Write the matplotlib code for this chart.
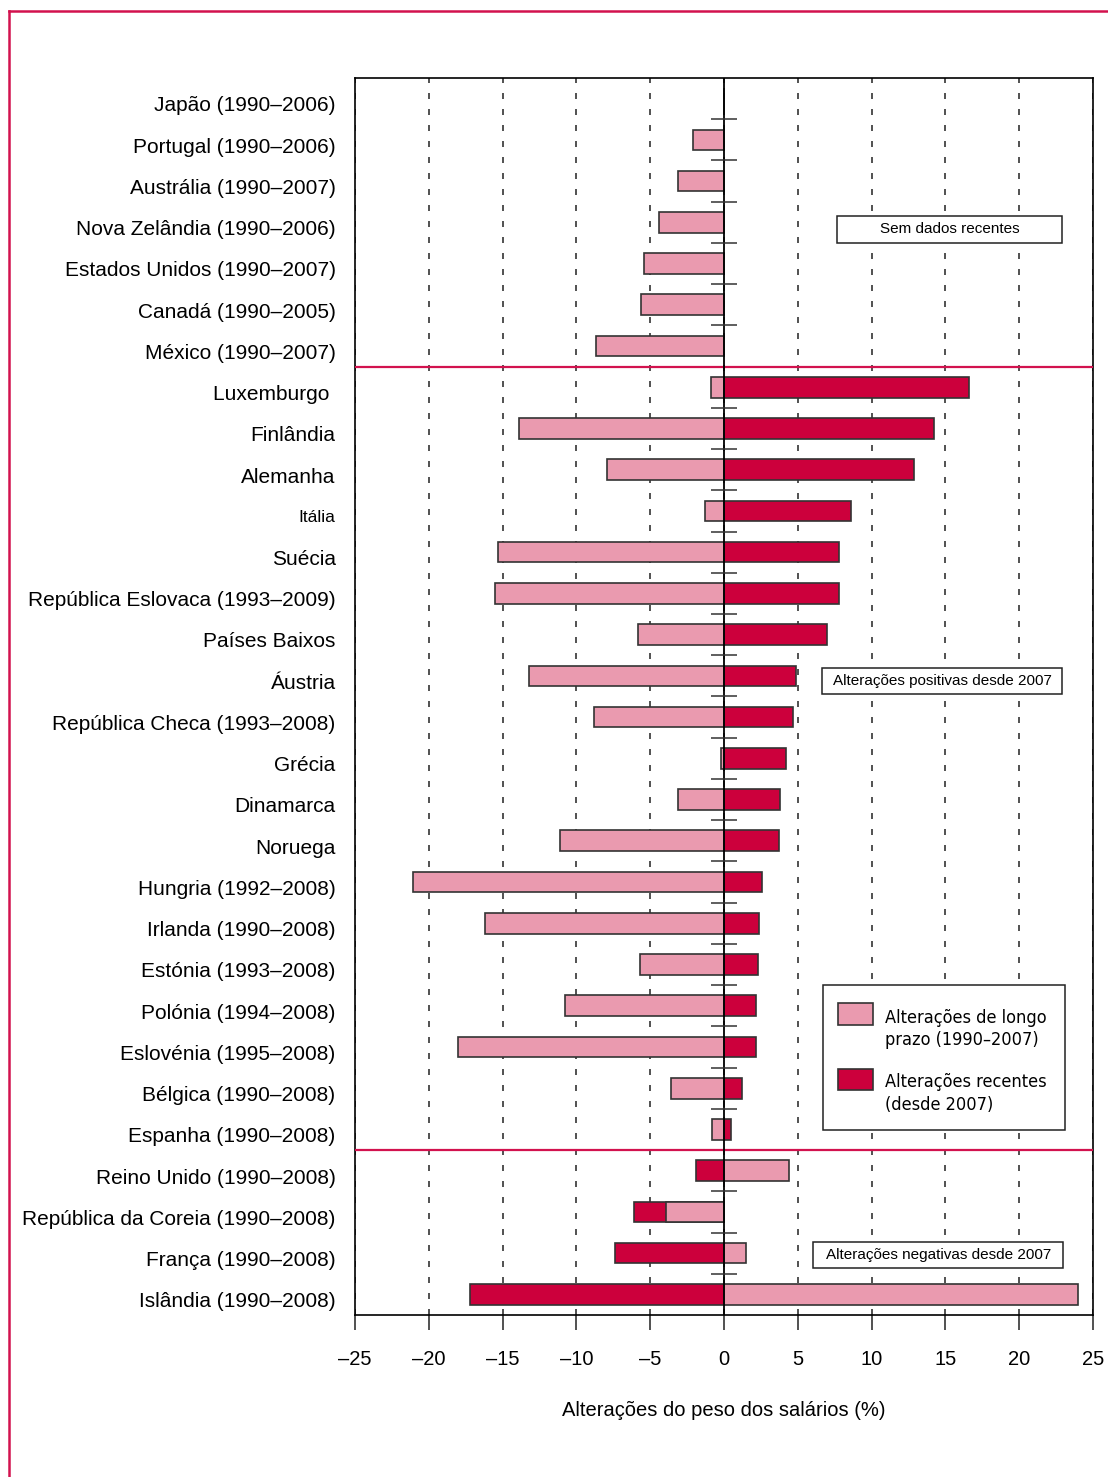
import numpy as np
import matplotlib
matplotlib.use('Agg')
import matplotlib.pyplot as plt
from matplotlib import font_manager
from matplotlib.patches import Rectangle
from matplotlib.lines import Line2D

plt.rcParams['font.family'] = ['Liberation Sans', 'DejaVu Sans']

# Данные
paises = [
    'Japão (1990–2006)', 'Portugal (1990–2006)', 'Austrália (1990–2007)',
    'Nova Zelândia (1990–2006)', 'Estados Unidos (1990–2007)', 'Canadá (1990–2005)',
    'México (1990–2007)', 'Luxemburgo ', 'Finlândia', 'Alemanha', 'Itália', 'Suécia',
    'República Eslovaca (1993–2009)', 'Países Baixos', 'Áustria',
    'República Checa (1993–2008)', 'Grécia', 'Dinamarca', 'Noruega',
    'Hungria (1992–2008)', 'Irlanda (1990–2008)', 'Estónia (1993–2008)',
    'Polónia (1994–2008)', 'Eslovénia (1995–2008)', 'Bélgica (1990–2008)',
    'Espanha (1990–2008)', 'Reino Unido (1990–2008)', 'República da Coreia (1990–2008)',
    'França (1990–2008)', 'Islândia (1990–2008)',
]
longo_prazo = [0.0, -2.1, -3.1, -4.4, -5.4, -5.6, -8.7,
               -0.9, -13.9, -7.9, -1.3, -15.3, -15.5, -5.8, -13.2, -8.8, -0.2,
               -3.1, -11.1, -21.1, -16.2, -5.7, -10.8, -18.0, -3.6, -0.8,
               4.4, -3.9, 1.5, 24.0]
recentes = [np.nan] * 7 + [16.6, 14.2, 12.9, 8.6, 7.8, 7.8, 7.0, 4.9, 4.7, 4.2,
                           3.8, 3.7, 2.6, 2.4, 2.3, 2.2, 2.2, 1.2, 0.5,
                           -1.9, -6.1, -7.4, -17.2]
xticks = [-25, -20, -15, -10, -5, 0, 5, 10, 15, 20, 25]

rosa = '#EA9AAF'
vermelho = '#CC003C'
linha_vermelha = '#D2124E'

# узкий шрифт для легенды, если есть
fontes = font_manager.fontManager.ttflist
nomes = {f.name for f in fontes}
if 'Liberation Sans Narrow' in nomes:
    fonte_leg = dict(family=['Liberation Sans Narrow'], fontsize=14.5)
elif any(f.name == 'DejaVu Sans' and f.stretch == 'condensed' for f in fontes):
    fonte_leg = dict(family=['DejaVu Sans'], fontstretch='condensed', fontsize=13)
else:
    fonte_leg = dict(family=['Liberation Sans'], fontsize=12.5)

fig = plt.figure(figsize=(11.08, 14.77), dpi=100)
ax = fig.add_axes([0.3204, 0.1097, 0.6661, 0.8375])

y = np.arange(len(paises))
rec = np.array(recentes)
ok = ~np.isnan(rec)

# сначала недавние изменения, поверх - долгосрочные
ax.barh(y[ok], rec[ok], height=0.5, color=vermelho, edgecolor='#333333', linewidth=1.2, zorder=3)
ax.barh(y, longo_prazo, height=0.5, color=rosa, edgecolor='#333333', linewidth=1.2, zorder=3)

ax.set_xlim(-25, 25)
ax.set_ylim(len(paises) - 0.5, -0.5)

# сетка пунктиром
ax.set_axisbelow(True)
ax.grid(axis='x', color='#333333', linewidth=1.2, linestyle=(0, (3.6, 6)))
ax.grid(axis='y', visible=False)

ax.axvline(0, color='black', linewidth=1.3, zorder=5)

# разделители групп
for yy in [6.5, 25.5]:
    ax.axhline(yy, color=linha_vermelha, linewidth=1.6, zorder=4)

# маленькие засечки на нулевой линии
marcas = [i + 0.5 for i in range(len(paises) - 1) if i not in (6, 25)]
ax.hlines(marcas, -0.85, 0.85, color='#333333', linewidth=1.1, zorder=5)

# подписи стран чуть ниже центра столбиков, как в оригинале
ax.set_yticks(y + 0.13, paises, fontsize=15)
for lab in ax.get_yticklabels():
    if lab.get_text() == 'Itália':
        lab.set_fontsize(12.5)
ax.tick_params(axis='y', length=0, pad=14)

ax.set_xticks(xticks)
ax.set_xticklabels([str(v).replace('-', '–') for v in xticks], fontsize=14.5)
ax.tick_params(axis='x', direction='out', length=11, width=1.1, pad=14, color='#222222')
ax.set_xlabel('Alterações do peso dos salários (%)', fontsize=14.5, labelpad=23)

for s in ax.spines.values():
    s.set_linewidth(1.2)
    s.set_color('black')

# рамки с подписями
caixas = [
    (7.67, 2.84, 22.91, 3.49, 'Sem dados recentes'),
    (6.66, 13.80, 22.91, 14.43, 'Alterações positivas desde 2007'),
    (6.05, 27.72, 22.98, 28.35, 'Alterações negativas desde 2007'),
]
for x0, y0, x1, y1, txt in caixas:
    ax.add_patch(Rectangle((x0, y0), x1 - x0, y1 - y0, facecolor='white',
                           edgecolor='#222222', linewidth=1.1, zorder=6))
    ax.text((x0 + x1) / 2, (y0 + y1) / 2, txt, ha='center', va='center',
            fontsize=11, zorder=7)

# легенда вручную
ax.add_patch(Rectangle((0.634, 0.1496), 0.328, 0.1172, transform=ax.transAxes,
                       facecolor='white', edgecolor='#222222', linewidth=1.1, zorder=6))
ax.add_patch(Rectangle((0.6545, 0.2344), 0.0474, 0.0178, transform=ax.transAxes,
                       facecolor=rosa, edgecolor='#333333', linewidth=1.2, zorder=7))
ax.add_patch(Rectangle((0.6545, 0.1819), 0.0474, 0.0170, transform=ax.transAxes,
                       facecolor=vermelho, edgecolor='#333333', linewidth=1.2, zorder=7))
ax.text(0.7182, 0.2312, 'Alterações de longo\nprazo (1990–2007)', transform=ax.transAxes,
        ha='left', va='center', linespacing=1.35, zorder=7, **fonte_leg)
ax.text(0.7182, 0.1787, 'Alterações recentes\n(desde 2007)', transform=ax.transAxes,
        ha='left', va='center', linespacing=1.35, zorder=7, **fonte_leg)

# красная рамка страницы
fig.add_artist(Line2D([0.0081, 1.0], [0.9926, 0.9926], color=linha_vermelha, linewidth=1.8))
fig.add_artist(Line2D([0.0081, 0.0081], [0.0, 0.9926], color=linha_vermelha, linewidth=1.8))

fig.savefig('out.png', dpi=100)
